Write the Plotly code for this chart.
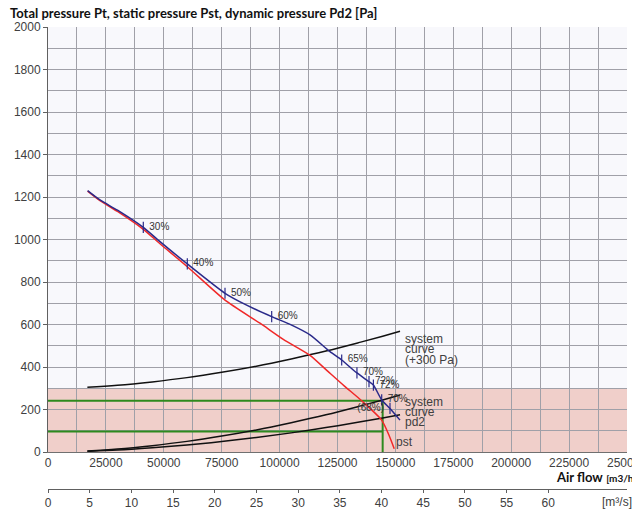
import plotly.graph_objects as go

# Total pressure Pt (fan curve) [m3/h, Pa]
pt_flow = [17100, 22450, 30000, 41150, 48360, 60150, 76430, 86000, 96580, 105000,
           113130, 121760, 126810, 131800, 133400, 138600, 140500, 144080, 147670, 151990]
pt_pa = [1230, 1186, 1138, 1057, 990, 885, 747, 690, 637, 598,
         551, 472, 433, 386, 372, 331, 315, 245, 205, 150]

# Static pressure Pst
pst_flow = [17100, 22450, 30000, 41150, 48360, 60150, 76430, 91540, 101600, 113130,
            121000, 128000, 135450, 144080, 147200, 149500]
pst_pa = [1228, 1183, 1132, 1048, 980, 872, 715, 606, 530, 455,
          378, 310, 241, 150, 80, 15]

# Efficiency marks on the Pt curve
eff_labels = ["30%", "40%", "50%", "60%", "65%", "70%", "72%", "72%", "70%", "(68%)"]
eff_flow = [41150, 60150, 76430, 96580, 126810, 133400, 138600, 140500, 144080, 147670]
eff_pa = [1057, 885, 747, 637, 433, 372, 331, 315, 245, 205]
eff_pos = ["middle right"] * 9 + ["middle left"]

# System curve, dynamic pressure pd2
sys_flow = [17000, 30000, 45000, 60000, 75000, 90000, 105000, 120000, 135000, 144500, 152000]
sys_pa = [5, 14, 30, 50, 75, 104, 138, 175, 217, 245, 268]
pd2_pa = [3, 9, 20, 33, 49, 68, 90, 115, 142, 160, 175]
sys_offset = 300

# Operating point
op_flow = 144500
op_pt = 241
op_pd = 96

# Axes
y_ticks = list(range(0, 2001, 200))
x_ticks = list(range(0, 250001, 25000))
ms_ticks = list(range(0, 61, 5))

BLUE = "#2a2a8a"
RED = "#f02828"
GREEN = "#2e8a1e"
TXT = "#404040"
FONT = "Liberation Sans, Arial, sans-serif"

fig = go.Figure()

line_kw = dict(mode="lines", hoverinfo="skip", showlegend=False)

# Operating point guides
fig.add_trace(go.Scatter(x=[0, op_flow], y=[op_pt, op_pt], line=dict(color=GREEN, width=2), **line_kw))
fig.add_trace(go.Scatter(x=[0, op_flow], y=[op_pd, op_pd], line=dict(color=GREEN, width=2), **line_kw))
fig.add_trace(go.Scatter(x=[op_flow, op_flow], y=[0, op_pt], line=dict(color=GREEN, width=2), **line_kw))

# System curves
fig.add_trace(go.Scatter(x=sys_flow, y=[p + sys_offset for p in sys_pa],
                         line=dict(color="#111111", width=1.5, shape="spline"), **line_kw))
fig.add_trace(go.Scatter(x=sys_flow, y=sys_pa,
                         line=dict(color="#111111", width=1.5, shape="spline"), **line_kw))
fig.add_trace(go.Scatter(x=sys_flow, y=pd2_pa,
                         line=dict(color="#111111", width=1.5, shape="spline"), **line_kw))

# Fan curves
fig.add_trace(go.Scatter(x=pst_flow, y=pst_pa,
                         line=dict(color=RED, width=1.5, shape="spline", smoothing=0.6), **line_kw))
fig.add_trace(go.Scatter(x=pt_flow, y=pt_pa,
                         line=dict(color=BLUE, width=1.5, shape="spline", smoothing=0.6), **line_kw))

# Efficiency ticks and labels
fig.add_trace(go.Scatter(
    x=eff_flow, y=eff_pa, mode="markers+text", text=eff_labels, textposition=eff_pos,
    marker=dict(symbol="line-ns", size=8, line=dict(color=BLUE, width=1.2)),
    textfont=dict(size=10, color="#333333", family=FONT),
    hoverinfo="skip", showlegend=False,
))

# m3/s scale (overlay axis, only used for its ticks)
fig.add_trace(go.Scatter(x=[0], y=[None], xaxis="x2", mode="lines", hoverinfo="skip", showlegend=False))

W, H = 632, 510
L, R, T, B = 48, 5, 27, 21
pw, ph = W - L - R, H - T - B
y0 = (489 - 452) / ph


def px(xp):
    return (xp - L) / pw


def py(yp):
    return (489 - yp) / ph


fig.add_shape(type="rect", xref="x", yref="y", x0=0, x1=250000, y0=0, y1=300,
              fillcolor="#f0cfca", line=dict(width=0), layer="below")

ann = [
    dict(x=px(8), y=py(13), text="<b>Total pressure Pt, static pressure Pst, dynamic pressure Pd2 [Pa]</b>",
         font=dict(size=13, color="#111111", family="Lato, sans-serif"), xanchor="left", yanchor="middle"),
    dict(x=px(554), y=py(477),
         text="<b>Air flow</b> <span style='font-size:10px'><b>[m3/h]</b></span>",
         font=dict(size=13, color="#111111", family="Lato, sans-serif"), xanchor="left", yanchor="middle"),
    dict(x=px(600), y=py(502), text="[m³/s]", font=dict(size=12, color=TXT, family=FONT),
         xanchor="left", yanchor="middle"),
    dict(x=px(403), y=py(339), text="system", xanchor="left", yanchor="middle"),
    dict(x=px(403), y=py(349), text="curve", xanchor="left", yanchor="middle"),
    dict(x=px(403), y=py(360), text="(+300 Pa)", xanchor="left", yanchor="middle"),
    dict(x=px(403), y=py(402), text="system", xanchor="left", yanchor="middle"),
    dict(x=px(403), y=py(412), text="curve", xanchor="left", yanchor="middle"),
    dict(x=px(403), y=py(422), text="pd2", xanchor="left", yanchor="middle"),
    dict(x=px(394), y=py(442), text="pst", xanchor="left", yanchor="middle"),
]
for a in ann:
    a.setdefault("font", dict(size=12, color=TXT, family=FONT))
    a.update(xref="paper", yref="paper", showarrow=False)

fig.update_layout(
    width=W, height=H,
    margin=dict(l=L, r=R, t=T, b=B, pad=0, autoexpand=False),
    paper_bgcolor="white",
    plot_bgcolor="#f8f8fc",
    annotations=ann,
    xaxis=dict(
        range=[0, 250000], tickvals=x_ticks, ticktext=[str(v) for v in x_ticks],
        showgrid=True, gridcolor="#a0a0a8", gridwidth=1,
        minor=dict(dtick=12500, showgrid=True, gridcolor="#a0a0a8", gridwidth=1),
        showline=True, linecolor="#707070", linewidth=1,
        ticks="", ticklen=0,
        tickfont=dict(size=12, color=TXT, family=FONT),
        ticklabeloverflow="allow", automargin=False,
        zeroline=False, anchor="y", fixedrange=True,
    ),
    xaxis2=dict(
        range=[0, 250000 / 3600], tickvals=ms_ticks,
        overlaying="x", anchor="free", position=0, side="bottom",
        showgrid=False, showline=True, linecolor="#606060", linewidth=1,
        ticks="outside", ticklen=3, tickcolor="#606060",
        tickfont=dict(size=12, color=TXT, family=FONT),
        ticklabeloverflow="allow", automargin=False,
        zeroline=False, fixedrange=True,
    ),
    yaxis=dict(
        domain=[y0, 1], range=[0, 2000], tickvals=y_ticks,
        showgrid=True, gridcolor="#a0a0a8", gridwidth=1,
        minor=dict(dtick=100, showgrid=True, gridcolor="#a0a0a8", gridwidth=1),
        showline=True, linecolor="#606060", linewidth=1,
        ticks="outside", ticklen=4, tickcolor="#606060",
        tickfont=dict(size=12, color=TXT, family=FONT),
        automargin=False,
        zeroline=False, fixedrange=True,
    ),
)

fig.write_html("out.html")
